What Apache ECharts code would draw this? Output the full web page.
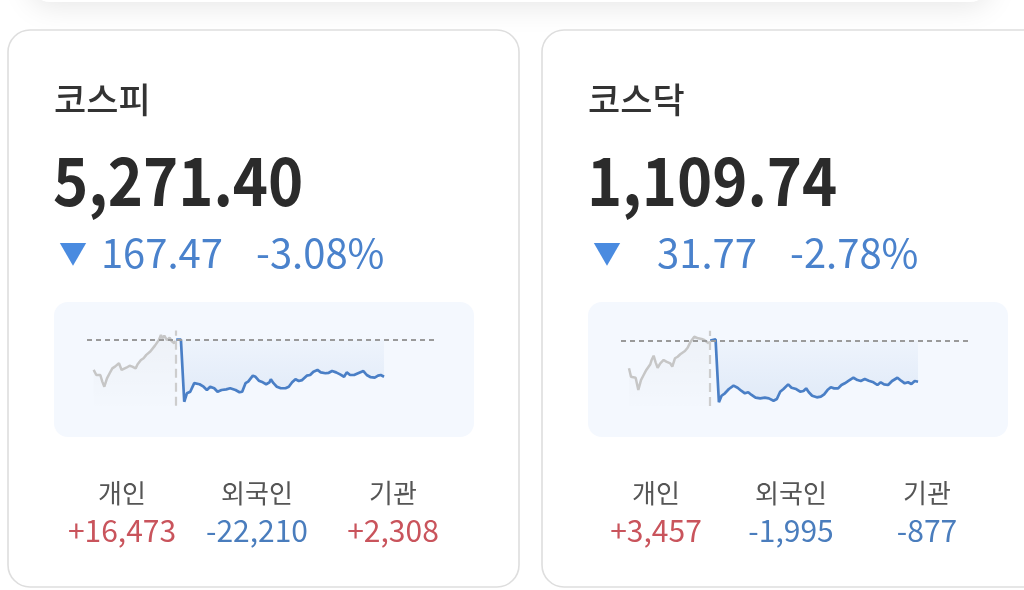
<!DOCTYPE html>
<html><head><meta charset="utf-8">
<script src="https://cdn.jsdelivr.net/npm/echarts@6/dist/echarts.min.js"></script>
<style>html,body{margin:0;padding:0;background:#fff}#c{width:1024px;height:590px}</style>
</head><body><div id="c"></div>
<script>
const FONT = '"Noto Sans CJK KR", "Noto Sans", sans-serif';

const indexNames = ['코스피', '코스닥'];
const indexValues = ['5,271.40', '1,109.74'];
const changeValues = ['167.47', '31.77'];
const changePcts = ['-3.08%', '-2.78%'];
const prevClose = [5438.87, 1141.51];
const investorLabels = ['개인', '외국인', '기관'];
const kospiInvestors = ['+16,473', '-22,210', '+2,308'];
const kosdaqInvestors = ['+3,457', '-1,995', '-877'];

// minutes relative to today's open (previous session tail is negative)
const kospiPrevTime = [-124,-120,-117,-114,-111,-108,-104,-100,-96,-92,-89,-86,-82,-79,-75,-70,-66,-61,-58,-53,-49,-45,-42,-39,-36,-32,-29,-26,-23,-21,-18,-14,-10,-7,-3,-1];
const kospiPrevPrice = [5302,5279,5271,5279,5249,5226,5264,5287,5309,5317,5312,5332,5302,5294,5312,5321,5317,5309,5328,5347,5355,5370,5362,5385,5392,5412,5415,5438,5460,5445,5457,5437,5448,5433,5423,5433];
const kospiTodayTime = [0,7,12,16,21,27,35,41,46,51,57,62,68,75,81,89,95,99,104,108,115,119,124,130,135,140,142,146,151,157,164,169,174,179,184,189,192,196,201,206,212,217,224,229,234,240,246,252,256,261,267,273,281,286,292,298,303,307,312];
const kospiTodayPrice = [5439,5439,5158,5196,5203,5242,5237,5226,5211,5226,5219,5203,5211,5214,5219,5211,5201,5203,5242,5249,5276,5271,5253,5246,5237,5246,5260,5242,5226,5219,5219,5226,5246,5260,5252,5256,5256,5276,5279,5294,5302,5291,5287,5289,5297,5291,5282,5271,5291,5279,5279,5287,5297,5279,5269,5267,5276,5279,5271.4];

const kosdaqPrevTime = [-122,-119,-116,-112,-108,-104,-100,-96,-90,-88,-85,-82,-79,-75,-70,-66,-60,-57,-53,-49,-45,-42,-38,-34,-30,-27,-24,-21,-18,-13,-9,-6,-2];
const kosdaqPrevPrice = [1120.1,1113.6,1112.4,1112.8,1103.3,1111.0,1114.9,1118.8,1123.2,1126.5,1129.8,1124.7,1120.5,1123.9,1126.5,1125.2,1123.9,1121.3,1127.8,1129.0,1130.9,1129.8,1133.4,1135.9,1140.1,1141.1,1144.4,1145.7,1143.2,1142.7,1141.9,1140.6,1139.3];
const kosdaqTodayTime = [0,3,8,13,17,22,28,35,41,47,52,57,62,68,75,82,88,95,100,105,110,117,122,129,135,140,144,148,153,160,166,171,176,181,186,192,197,202,208,215,221,226,232,238,245,251,256,261,267,273,281,287,292,297,302,307,312];
const kosdaqTodayPrice = [1141.5,1141.0,1142.4,1093.9,1098.9,1100.8,1104.1,1106.7,1105.1,1102.6,1100.8,1101.6,1099.5,1097.4,1096.9,1097.4,1096.9,1095.1,1096.4,1102.0,1104.1,1107.7,1105.1,1104.1,1102.0,1102.6,1104.6,1101.6,1098.9,1097.7,1098.2,1100.0,1103.3,1105.4,1104.6,1104.6,1107.2,1108.5,1110.5,1112.8,1111.0,1110.3,1111.8,1110.5,1109.3,1107.2,1109.3,1107.7,1107.2,1110.3,1112.8,1110.3,1108.5,1109.3,1108.0,1110.3,1109.74];

const yRanges = [[5140, 5480], [1091, 1149]];

const zip = (a, b) => a.map((v, i) => [v, b[i]]);

const BLUE_TXT = '#4a82cc';
const RED_TXT = '#c9545c';
const INV_BLUE = '#4a7dbd';

function cardGraphics(k, dx, investors) {
  const g = [];
  g.push({ type: 'rect', shape: { x: 8 + dx, y: 30, width: 511, height: 557, r: 22 },
    style: { fill: '#fff', stroke: '#dedede', lineWidth: 1.6 }, z: -10 });
  g.push({ type: 'rect', shape: { x: 54 + dx, y: 302, width: 420, height: 135, r: 14 },
    style: { fill: '#f4f8fe' }, z: -9 });
  g.push({ type: 'text', style: { x: 54 + dx, y: 100, text: indexNames[k], font: '500 35px ' + FONT, fill: '#333', textAlign: 'left', textVerticalAlign: 'middle' } });
  g.push({ type: 'text', x: 53 + dx, y: 181, scaleX: 0.905, style: { x: 0, y: 0, text: indexValues[k], font: 'bold 66px ' + FONT, fill: '#2b2b2b', textAlign: 'left', textVerticalAlign: 'middle' } });
  g.push({ type: 'text', style: { x: 59 + dx, y: 253, text: '▼', font: '28px ' + FONT, fill: '#4a8be0', textAlign: 'left', textVerticalAlign: 'middle' } });
  g.push({ type: 'text', style: { x: 223 + dx, y: 253, text: changeValues[k], font: '40px ' + FONT, fill: BLUE_TXT, textAlign: 'right', textVerticalAlign: 'middle' } });
  g.push({ type: 'text', style: { x: 256 + dx, y: 253, text: changePcts[k], font: '40px ' + FONT, fill: BLUE_TXT, textAlign: 'left', textVerticalAlign: 'middle' } });
  const cx = [122, 257, 393];
  for (let i = 0; i < 3; i++) {
    g.push({ type: 'text', style: { x: cx[i] + dx, y: 493, text: investorLabels[i], font: '26px ' + FONT, fill: '#555', textAlign: 'center', textVerticalAlign: 'middle' } });
    const v = investors[i];
    g.push({ type: 'text', style: { x: cx[i] + dx, y: 531, text: v, font: '30px ' + FONT, fill: v[0] === '+' ? RED_TXT : INV_BLUE, textAlign: 'center', textVerticalAlign: 'middle' } });
  }
  return g;
}

function makeSeries(idx, prevT, prevP, todayT, todayP) {
  return [
    { type: 'line', xAxisIndex: idx, yAxisIndex: idx, data: zip(prevT, prevP), symbol: 'none',
      lineStyle: { color: '#c6c6c6', width: 2.5 },
      areaStyle: { origin: 'start', color: new echarts.graphic.LinearGradient(0, 0, 0, 1, [
        { offset: 0, color: 'rgba(0,0,0,0.04)' }, { offset: 1, color: 'rgba(0,0,0,0.005)' }]) },
      z: 3, silent: true },
    { type: 'line', xAxisIndex: idx, yAxisIndex: idx, data: zip(todayT, todayP), symbol: 'none',
      lineStyle: { color: '#4a7fc6', width: 2.7 },
      areaStyle: { origin: prevClose[idx], color: new echarts.graphic.LinearGradient(0, 0, 0, 1, [
        { offset: 0, color: 'rgba(74,128,200,0.05)' }, { offset: 1, color: 'rgba(74,128,200,0.17)' }]) },
      z: 4, silent: true,
      markLine: { silent: true, symbol: 'none', label: { show: false },
        data: [
          { yAxis: prevClose[idx], lineStyle: { color: '#9a9a9a', width: 2.2, type: [5, 4] } },
          { xAxis: 0, lineStyle: { color: '#cdcdcd', width: 2.2, type: [9, 5] } }
        ] } }
  ];
}

const chart = echarts.init(document.getElementById('c'), null, { renderer: 'canvas' });
chart.setOption({
  backgroundColor: '#fff',
  animation: false,
  graphic: [
    { type: 'rect', shape: { x: 30, y: -60, width: 960, height: 62, r: 20 },
      style: { fill: '#fff', shadowBlur: 30, shadowColor: 'rgba(0,0,0,0.10)', shadowOffsetY: 4 }, z: -20 },
    ...cardGraphics(0, 0, kospiInvestors),
    ...cardGraphics(1, 534, kosdaqInvestors)
  ],
  grid: [
    { left: 87, top: 330.6, width: 349, height: 75.1 },
    { left: 621, top: 330.8, width: 349, height: 75.2 }
  ],
  xAxis: [0, 1].map(i => ({ type: 'value', gridIndex: i, min: -134, max: 390, show: false })),
  yAxis: [0, 1].map(i => ({ type: 'value', gridIndex: i, min: yRanges[i][0], max: yRanges[i][1], show: false })),
  series: [
    ...makeSeries(0, kospiPrevTime, kospiPrevPrice, kospiTodayTime, kospiTodayPrice),
    ...makeSeries(1, kosdaqPrevTime, kosdaqPrevPrice, kosdaqTodayTime, kosdaqTodayPrice)
  ]
});
</script></body></html>
